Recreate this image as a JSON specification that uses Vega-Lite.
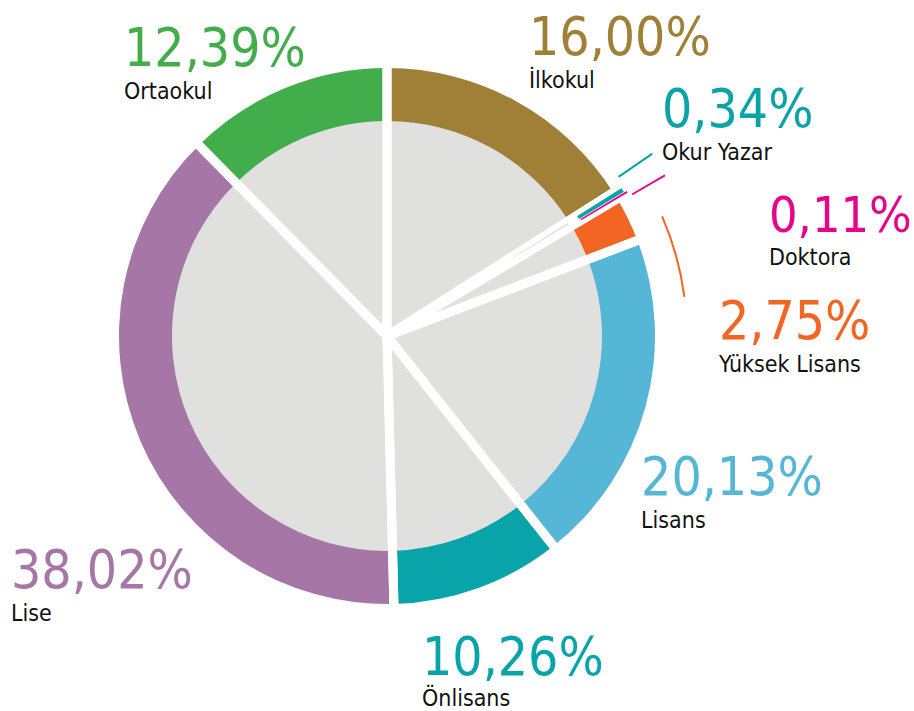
{
  "$schema": "https://vega.github.io/schema/vega-lite/v6.json",
  "width": 774,
  "height": 672,
  "autosize": {"type": "none"},
  "padding": {"left": 0, "top": 0, "right": 140, "bottom": 39},
  "background": "#ffffff",
  "config": {
    "view": {"stroke": null},
    "text": {"font": "DejaVu Sans Condensed"},
    "locale": {"number": {"decimal": ",", "thousands": ".", "grouping": [3], "currency": ["", " ₺"]}}
  },
  "data": {
    "values": [
      {"category": "İlkokul", "share": 0.16},
      {"category": "Okur Yazar", "share": 0.0034},
      {"category": "Doktora", "share": 0.0011},
      {"category": "Yüksek Lisans", "share": 0.0275},
      {"category": "Lisans", "share": 0.2013},
      {"category": "Önlisans", "share": 0.1026},
      {"category": "Lise", "share": 0.3802},
      {"category": "Ortaokul", "share": 0.1239}
    ]
  },
  "transform": [{"stack": "share", "groupby": [], "as": ["v0", "v1"]}],
  "encoding": {
    "theta": {"field": "v0", "type": "quantitative", "stack": null, "scale": {"domain": [0, 1], "range": [0, 6.283185307179586]}},
    "color": {
      "field": "category", "type": "nominal", "legend": null,
      "scale": {
        "domain": ["İlkokul", "Okur Yazar", "Doktora", "Yüksek Lisans", "Lisans", "Önlisans", "Lise", "Ortaokul"],
        "range": ["#a08036", "#0aa3a8", "#e6058a", "#f26522", "#56b6d6", "#08a4aa", "#a677a6", "#42ad4b"]
      }
    }
  },
  "layer": [
    {"mark": {"type": "arc", "innerRadius": 0, "outerRadius": 216, "fill": "#e0e0df"}, "encoding": {"theta2": {"field": "v1"}, "color": {"value": "#e0e0df"}}},
    {"mark": {"type": "arc", "innerRadius": 215, "outerRadius": 268}, "encoding": {"theta2": {"field": "v1"}}},
    {"mark": {"type": "arc", "innerRadius": 0, "outerRadius": 300, "filled": false, "stroke": "#ffffff", "strokeWidth": 9}, "encoding": {"theta2": {"field": "v1"}, "color": {"value": "#ffffff"}}},
    {"transform": [{"filter": "datum.category === 'Okur Yazar' || datum.category === 'Doktora'"}], "mark": {"type": "arc", "innerRadius": 0, "outerRadius": 214, "stroke": "#ffffff", "strokeWidth": 2.5}, "encoding": {"theta2": {"field": "v1"}, "color": {"value": "#e0e0df"}}},
    {"transform": [{"filter": "datum.category === 'Okur Yazar'"}], "mark": {"type": "arc", "innerRadius": 224, "outerRadius": 278, "stroke": "#ffffff", "strokeWidth": 1.5}, "encoding": {"theta2": {"field": "v1"}}},
    {"transform": [{"filter": "datum.category === 'Doktora'"}], "mark": {"type": "arc", "innerRadius": 226, "outerRadius": 280}, "encoding": {"theta2": {"field": "v1"}}},
    {"transform": [{"filter": "datum.category === 'Okur Yazar'"}], "mark": {"type": "arc", "innerRadius": 281, "outerRadius": 322, "thetaOffset": -0.04014, "theta2Offset": -0.05452}, "encoding": {"theta2": {"field": "v1"}}},
    {"transform": [{"filter": "datum.category === 'Doktora'"}], "mark": {"type": "arc", "innerRadius": 283, "outerRadius": 321, "thetaOffset": 0.01703, "theta2Offset": 0.01623}, "encoding": {"theta2": {"field": "v1"}}},
    {"transform": [{"filter": "datum.category === 'Yüksek Lisans'"}], "mark": {"type": "arc", "innerRadius": 299, "outerRadius": 301, "thetaOffset": 0.12706, "theta2Offset": 0.23353}, "encoding": {"theta2": {"field": "v1"}}},

    {"transform": [{"filter": "datum.category === 'İlkokul'"}], "layer": [
      {"mark": {"type": "text", "radius": 314.8, "thetaOffset": 0.4679, "align": "left", "baseline": "alphabetic", "fontSize": 53}, "encoding": {"text": {"field": "share", "type": "quantitative", "format": ".2%"}}},
      {"mark": {"type": "text", "radius": 314.8, "thetaOffset": 0.4679, "align": "left", "baseline": "alphabetic", "dy": 33, "fontSize": 23}, "encoding": {"text": {"field": "category"}, "color": {"value": "#111111"}}}
    ]},
    {"transform": [{"filter": "datum.category === 'Okur Yazar'"}], "layer": [
      {"mark": {"type": "text", "radius": 345.4, "thetaOffset": -0.0843, "align": "left", "baseline": "alphabetic", "fontSize": 53}, "encoding": {"text": {"field": "share", "type": "quantitative", "format": ".2%"}}},
      {"mark": {"type": "text", "radius": 345.4, "thetaOffset": -0.0843, "align": "left", "baseline": "alphabetic", "dy": 33, "fontSize": 23}, "encoding": {"text": {"field": "category"}, "color": {"value": "#111111"}}}
    ]},
    {"transform": [{"filter": "datum.category === 'Doktora'"}], "layer": [
      {"mark": {"type": "text", "radius": 395.9, "thetaOffset": 0.2783, "align": "left", "baseline": "alphabetic", "fontSize": 50}, "encoding": {"text": {"field": "share", "type": "quantitative", "format": ".2%"}}},
      {"mark": {"type": "text", "radius": 395.9, "thetaOffset": 0.2783, "align": "left", "baseline": "alphabetic", "dy": 33, "fontSize": 23}, "encoding": {"text": {"field": "category"}, "color": {"value": "#111111"}}}
    ]},
    {"transform": [{"filter": "datum.category === 'Yüksek Lisans'"}], "layer": [
      {"mark": {"type": "text", "radius": 332, "thetaOffset": 0.5463, "align": "left", "baseline": "alphabetic", "fontSize": 53}, "encoding": {"text": {"field": "share", "type": "quantitative", "format": ".2%"}}},
      {"mark": {"type": "text", "radius": 332, "thetaOffset": 0.5463, "align": "left", "baseline": "alphabetic", "dy": 33, "fontSize": 23}, "encoding": {"text": {"field": "category"}, "color": {"value": "#111111"}}}
    ]},
    {"transform": [{"filter": "datum.category === 'Lisans'"}], "layer": [
      {"mark": {"type": "text", "radius": 299.7, "thetaOffset": 0.9236, "align": "left", "baseline": "alphabetic", "fontSize": 53}, "encoding": {"text": {"field": "share", "type": "quantitative", "format": ".2%"}}},
      {"mark": {"type": "text", "radius": 299.7, "thetaOffset": 0.9236, "align": "left", "baseline": "alphabetic", "dy": 33, "fontSize": 23}, "encoding": {"text": {"field": "category"}, "color": {"value": "#111111"}}}
    ]},
    {"transform": [{"filter": "datum.category === 'Önlisans'"}], "layer": [
      {"mark": {"type": "text", "radius": 340.8, "thetaOffset": 0.5676, "align": "left", "baseline": "alphabetic", "fontSize": 53}, "encoding": {"text": {"field": "share", "type": "quantitative", "format": ".2%"}}},
      {"mark": {"type": "text", "radius": 340.8, "thetaOffset": 0.5676, "align": "left", "baseline": "alphabetic", "dy": 31, "fontSize": 23}, "encoding": {"text": {"field": "category"}, "color": {"value": "#111111"}}}
    ]},
    {"transform": [{"filter": "datum.category === 'Lise'"}], "layer": [
      {"mark": {"type": "text", "radius": 452.6, "thetaOffset": 1.0061, "align": "left", "baseline": "alphabetic", "fontSize": 53}, "encoding": {"text": {"field": "share", "type": "quantitative", "format": ".2%"}}},
      {"mark": {"type": "text", "radius": 452.6, "thetaOffset": 1.0061, "align": "left", "baseline": "alphabetic", "dy": 33, "fontSize": 23}, "encoding": {"text": {"field": "category"}, "color": {"value": "#111111"}}}
    ]},
    {"transform": [{"filter": "datum.category === 'Ortaokul'"}], "layer": [
      {"mark": {"type": "text", "radius": 376.9, "thetaOffset": 0.0062, "align": "left", "baseline": "alphabetic", "fontSize": 53}, "encoding": {"text": {"field": "share", "type": "quantitative", "format": ".2%"}}},
      {"mark": {"type": "text", "radius": 376.9, "thetaOffset": 0.0062, "align": "left", "baseline": "alphabetic", "dy": 33, "fontSize": 23}, "encoding": {"text": {"field": "category"}, "color": {"value": "#111111"}}}
    ]}
  ]
}
